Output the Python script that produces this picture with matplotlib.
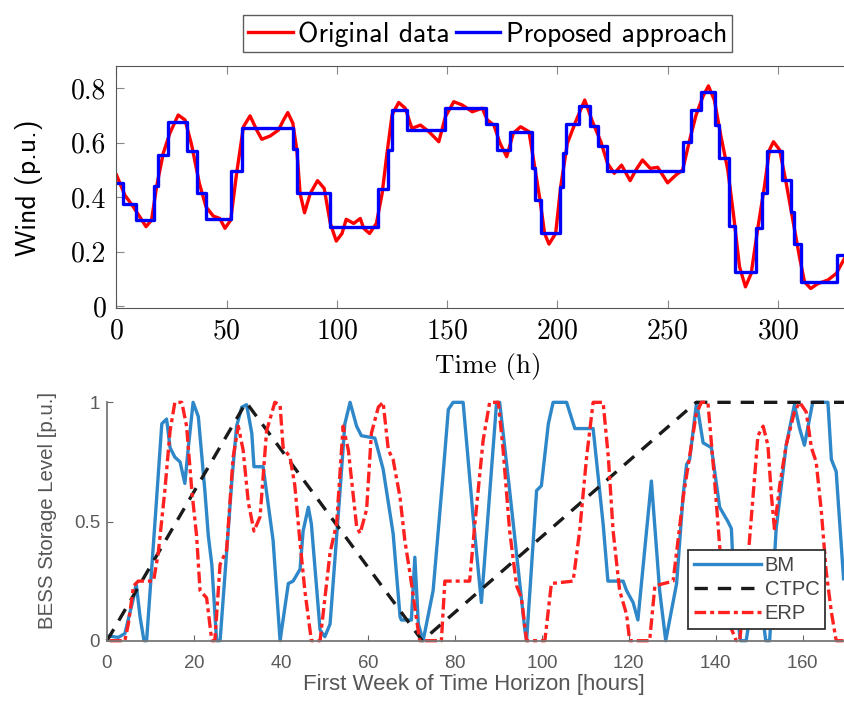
import numpy as np
import matplotlib
matplotlib.use("Agg")
import matplotlib.pyplot as plt
from matplotlib.ticker import FuncFormatter

plt.rcParams["axes.formatter.use_mathtext"] = True

# ---------------- top panel: wind profile ----------------
t_orig = [0, 3.8, 7.6, 10.6, 13.4, 15.9, 18.2, 21.2, 24.2, 28, 31.1, 34.1, 37.6,
          40.6, 43.9, 46.9, 49.2, 51.8, 54.5, 57.6, 60.6, 63.6, 65.9, 69.7, 73.5,
          75.8, 77.7, 80, 81.8, 83.3, 85.3, 87.9, 91.2, 94.2, 97, 99.7, 102.3,
          104.2, 107.6, 110.6, 112.1, 114.8, 117.9, 120.5, 122.7, 125, 128, 131,
          134, 137.9, 141.7, 143.9, 146.2, 149.2, 153, 156.8, 161.4, 165.9, 168.2,
          171.2, 174, 177, 180, 183.3, 187.1, 189.7, 192.1, 194.2, 196.2, 199.2,
          201.5, 204.5, 208.3, 212.4, 215.9, 219.7, 222.7, 225.8, 229.1, 233,
          235.6, 238.6, 242.1, 245.5, 250, 253.8, 256.8, 259.8, 262.9, 266, 268.5,
          271.2, 274.2, 277.3, 280, 282.6, 285.3, 287.9, 290.9, 293.9, 296.2, 298,
          300.8, 303.8, 306.8, 309.8, 312.1, 314.9, 318.2, 322.7, 326.5, 330.6]
w_orig = [0.482, 0.408, 0.365, 0.328, 0.292, 0.316, 0.439, 0.561, 0.635, 0.702,
          0.684, 0.592, 0.451, 0.365, 0.331, 0.322, 0.286, 0.316, 0.488, 0.659,
          0.699, 0.647, 0.613, 0.625, 0.647, 0.684, 0.711, 0.672, 0.574, 0.414,
          0.343, 0.414, 0.461, 0.433, 0.304, 0.239, 0.267, 0.319, 0.304, 0.322,
          0.286, 0.267, 0.304, 0.414, 0.561, 0.702, 0.748, 0.727, 0.653, 0.665,
          0.641, 0.623, 0.604, 0.696, 0.751, 0.739, 0.714, 0.727, 0.684, 0.665,
          0.598, 0.549, 0.635, 0.659, 0.641, 0.512, 0.390, 0.267, 0.228, 0.267,
          0.439, 0.598, 0.678, 0.757, 0.678, 0.604, 0.525, 0.488, 0.518, 0.461,
          0.500, 0.537, 0.506, 0.510, 0.453, 0.482, 0.500, 0.604, 0.702, 0.770,
          0.809, 0.757, 0.623, 0.500, 0.328, 0.145, 0.071, 0.120, 0.286, 0.439,
          0.574, 0.604, 0.574, 0.451, 0.316, 0.181, 0.089, 0.065, 0.083, 0.096,
          0.120, 0.181]

t_step = [0, 3, 9, 17, 19, 23.5, 32, 36.5, 40.5, 52, 57, 80, 82, 97, 118.5, 123,
          125, 132, 149, 167.5, 172.5, 178.5, 188.5, 190, 192.5, 201, 202.5, 204,
          210, 215, 218.5, 222.5, 257, 260.5, 265, 271.5, 273.5, 278, 280.5, 290,
          293, 295, 302, 306, 307.5, 310.5, 327, 331]
w_step = [0.453, 0.375, 0.315, 0.441, 0.555, 0.678, 0.571, 0.417, 0.321, 0.498,
          0.656, 0.576, 0.414, 0.292, 0.429, 0.574, 0.721, 0.647, 0.729, 0.668,
          0.574, 0.641, 0.506, 0.390, 0.267, 0.439, 0.561, 0.669, 0.735, 0.662,
          0.589, 0.498, 0.604, 0.721, 0.788, 0.665, 0.543, 0.294, 0.126, 0.286,
          0.414, 0.570, 0.463, 0.347, 0.228, 0.089, 0.188, 0.188]

# ---------------- bottom panel: BESS storage level ----------------
t_bm = [0.3, 2.6, 4.1, 6.1, 6.7, 7.6, 8.5, 9.1, 11, 12.6, 13.7, 14.5, 15.6, 16.8,
        17.9, 18.7, 19.8, 21, 22.5, 23.3, 24.1, 25.2, 26, 27.1, 28.7, 29.8, 31,
        32.1, 33.3, 33.8, 35.9, 38.2, 39.8, 41.7, 42.8, 44.4, 45.1, 46.3, 47, 49,
        50.1, 51.3, 53.6, 54.7, 55.9, 57.4, 58.5, 61.6, 63.5, 65.8, 67.4, 67.7, 70,
        70.8, 71.6, 72.7, 75, 77.3, 78.5, 79.6, 81.9, 84.2, 86.1, 89.6, 90.3, 92.6,
        96.1, 96.5, 98.8, 99.9, 101.5, 102.6, 105.7, 107.6, 111.8, 114.1, 115.2,
        118.7, 119.5, 121, 122.1, 125.2, 127.1, 128.5, 131, 132.5, 133.3, 134,
        135.6, 137.1, 139, 140.9, 142.8, 143.6, 144.3, 145.7, 147, 149.5, 151.5,
        152.4, 153.9, 156.2, 158.1, 159.3, 160.4, 162.3, 165.8, 166.6, 167.7, 169.4]
y_bm = [0.02, 0.014, 0.03, 0.18, 0.24, 0.10, 0.0, 0.0, 0.49, 0.91, 0.93, 0.81,
        0.77, 0.75, 0.66, 0.81, 1.0, 0.94, 0.63, 0.44, 0.32, 0.0, 0.0, 0.27, 0.67,
        0.90, 0.98, 0.99, 0.87, 0.73, 0.73, 0.42, 0.0, 0.24, 0.25, 0.30, 0.46,
        0.56, 0.49, 0.045, 0.017, 0.07, 0.63, 0.91, 1.0, 0.90, 0.86, 0.85, 0.72,
        0.45, 0.10, 0.087, 0.087, 0.35, 0.07, 0.0, 0.21, 0.70, 0.97, 1.0, 1.0,
        0.52, 0.16, 1.0, 1.0, 0.63, 0.045, 0.0, 0.63, 0.65, 0.91, 1.0, 1.0, 0.89,
        0.89, 0.49, 0.25, 0.25, 0.21, 0.16, 0.087, 0.67, 0.21, 0.0, 0.24, 0.61,
        0.74, 0.76, 1.0, 0.83, 0.81, 0.56, 0.50, 0.47, 0.19, 0.0, 0.0, 0.30, 0.0,
        0.0, 0.47, 0.82, 0.99, 0.89, 0.82, 1.0, 1.0, 0.76, 0.71, 0.26]

t_ctpc = [0, 32, 72.5, 135.5, 170]
y_ctpc = [0.0, 1.0, 0.0, 1.0, 1.0]

t_erp = [0.7, 4.1, 4.9, 6.1, 7.2, 10.7, 11.8, 13.3, 14.5, 15.6, 17.2, 18.3, 19.5,
         20.6, 21.4, 22.9, 24.1, 24.8, 26, 27.5, 29, 30.2, 31.3, 32.5, 33.8, 35.2,
         36.7, 38.6, 39.8, 40.5, 42.1, 43.2, 44.4, 45.5, 47, 49, 51.3, 52.8, 54.3,
         55.5, 57.4, 58.2, 59.7, 60.8, 62.4, 63.5, 64.7, 65.8, 67.4, 68.5, 69.7,
         70.8, 71.9, 76.9, 77.7, 83.4, 84.6, 86.5, 88, 90, 91.1, 92.6, 94.2, 95.3,
         96.5, 100.7, 102.2, 107.2, 108.7, 110.3, 111.8, 114.1, 115.3, 116.4, 117.9,
         119.5, 120.2, 124.8, 126, 130.2, 132.5, 135.5, 136.7, 138.2, 139.7, 140.9,
         142, 143.6, 144.7, 145.5, 147, 148.6, 149.7, 150.9, 152, 152.8, 153.5,
         154.7, 156.2, 158.1, 159.3, 160.8, 162, 163.1, 164.3, 165.4, 166.6, 167.7,
         169.4]
y_erp = [0.0, 0.0, 0.07, 0.23, 0.25, 0.25, 0.37, 0.63, 0.88, 1.0, 1.0, 0.90, 0.63,
         0.44, 0.21, 0.18, 0.0, 0.0, 0.32, 0.38, 0.77, 0.90, 0.80, 0.58, 0.46, 0.52,
         0.88, 1.0, 0.99, 0.81, 0.77, 0.65, 0.41, 0.21, 0.0, 0.0, 0.37, 0.49, 0.90,
         0.80, 0.48, 0.45, 0.55, 0.87, 0.98, 1.0, 0.80, 0.76, 0.60, 0.42, 0.28,
         0.14, 0.0, 0.0, 0.25, 0.25, 0.49, 0.84, 1.0, 1.0, 0.80, 0.46, 0.23, 0.18,
         0.0, 0.0, 0.24, 0.25, 0.46, 0.77, 1.0, 1.0, 0.77, 0.46, 0.21, 0.11, 0.0,
         0.0, 0.23, 0.25, 0.60, 0.95, 1.0, 1.0, 0.68, 0.40, 0.16, 0.05, 0.0, 0.0,
         0.25, 0.61, 0.86, 0.90, 0.82, 0.61, 0.47, 0.65, 0.82, 0.96, 1.0, 0.96,
         0.81, 0.75, 0.54, 0.29, 0.12, 0.0, 0.0]

fig = plt.figure(figsize=(8.44, 7.04), dpi=100)

# ---------------- top axes ----------------
ax1 = fig.add_axes([0.138, 0.562, 0.862, 0.3446])
ax1.plot(t_orig, w_orig, color="#ff0000", lw=2.4, label="Original data")
ax1.plot(t_step, w_step, color="#0000ff", lw=2.4, drawstyle="steps-post",
         label="Proposed approach")
ax1.set_xlim(0, 330)
ax1.set_ylim(-0.008, 0.883)
ax1.set_xticks([0, 50, 100, 150, 200, 250, 300])
ax1.set_yticks([0, 0.2, 0.4, 0.6, 0.8])
ax1.yaxis.set_major_formatter(FuncFormatter(lambda v, p: f"{v:g}"))
ax1.tick_params(direction="in", top=True, length=6, color="#888888",
                labelsize=20, pad=7)
for lab in ax1.get_xticklabels() + ax1.get_yticklabels():
    lab.set_fontfamily("cmr10")
for s in ["top", "bottom", "left"]:
    ax1.spines[s].set_color("#555555")
ax1.spines["right"].set_visible(False)

fig.text(0.0344, 0.733, "Wind (p.u.)", rotation=90, ha="center", va="center",
         fontsize=20, family="cmss10")
fig.text(0.578, 0.479, "Time (h)", ha="center", va="center",
         fontsize=19.5, family="cmr10")

fig.legend(loc="center", bbox_to_anchor=(0.5776, 0.952), ncol=2,
           prop={"family": "cmss10", "size": 20}, frameon=True, fancybox=False,
           edgecolor="#333333", handlelength=1.6, handletextpad=0.2,
           columnspacing=0.2, borderpad=0.2, borderaxespad=0)

# ---------------- bottom axes ----------------
ax2 = fig.add_axes([0.1268, 0.0899, 0.8732, 0.3386])
ax2.plot(t_bm, y_bm, color="#2e87c8", lw=2.4, label="BM", clip_on=False)
ax2.plot(t_ctpc, y_ctpc, color="#1a1a1a", lw=2.4, ls=(0, (4, 3)),
         label="CTPC", clip_on=False)
ax2.plot(t_erp, y_erp, color="#ff2020", lw=2.4, ls=(0, (3.5, 1.2, 1.2, 1.2)),
         label="ERP", clip_on=False)
ax2.set_xlim(0, 169.5)
ax2.set_ylim(0, 1)
ax2.set_xticks(np.arange(0, 161, 20))
ax2.set_yticks([0, 0.5, 1])
ax2.yaxis.set_major_formatter(FuncFormatter(lambda v, p: f"{v:g}"))
ax2.tick_params(direction="in", length=4, color="#666666", labelcolor="#5a5a5a",
                labelsize=13.5)
ax2.tick_params(axis="x", pad=10)
ax2.tick_params(axis="y", pad=5)
for s in ["top", "right"]:
    ax2.spines[s].set_visible(False)
for s in ["bottom", "left"]:
    ax2.spines[s].set_color("#777777")
    ax2.spines[s].set_linewidth(1.3)
for lab in ax2.get_xticklabels() + ax2.get_yticklabels():
    lab.set_fontfamily("Liberation Sans")

fig.text(0.0563, 0.275, "BESS Storage Level [p.u.]", rotation=90, ha="center",
         va="center", fontsize=14.7, color="#555555", family="Liberation Sans")
fig.text(0.5616, 0.027, "First Week of Time Horizon [hours]", ha="center",
         va="center", fontsize=16, color="#555555", family="Liberation Sans")

leg = ax2.legend(loc="lower right", bbox_to_anchor=(0.978, 0.1065),
                 bbox_transform=fig.transFigure,
                 prop={"family": "Liberation Sans", "size": 14.5}, frameon=True,
                 fancybox=False, edgecolor="#333333", framealpha=1,
                 handlelength=3.3, handletextpad=0.2, borderpad=0.3,
                 labelspacing=0.25, borderaxespad=0, labelcolor="#444444")
leg.get_frame().set_linewidth(1.3)

fig.savefig("out.png", dpi=100)
